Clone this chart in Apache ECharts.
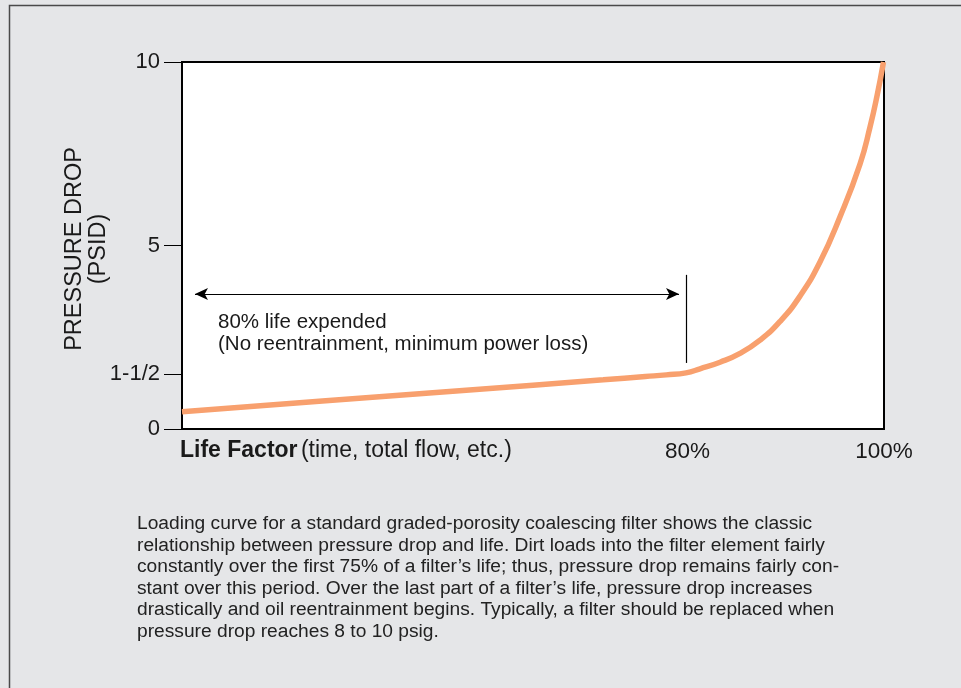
<!DOCTYPE html>
<html>
<head>
<meta charset="utf-8">
<script src="https://cdn.jsdelivr.net/npm/echarts@6/dist/echarts.min.js"></script>
<style>
html,body{margin:0;padding:0;background:#e5e6e8;}
#c{width:961px;height:688px;}
</style>
</head>
<body>
<div id="c"></div>
<script>
// Life factor (%) along x, pressure drop (psid) along y
const lifeX = [0, 20, 40, 60, 66, 69, 71.8, 73.79, 76.64, 79.49, 82.34, 85.19, 88.03, 90.88, 93.73, 96.58, 98.01, 99.0, 99.93];
const pressureY = [0.47, 0.76, 1.05, 1.34, 1.43, 1.475, 1.53, 1.64, 1.82, 2.06, 2.42, 2.93, 3.62, 4.55, 5.78, 7.22, 8.23, 9.07, 10.0];
const yTickValues = [0, 1.5, 5, 10];
const yTickLabels = ['0', '1-1/2', '5', '10'];
const xTickValues = [72, 100];
const xTickLabels = ['80%', '100%'];
const arrowSpan = [1.85, 70.8];
const arrowLevel = 3.68;
const markerX = 71.8;
const markerSpan = [1.8, 4.2];
const caption = [
  'Loading curve for a standard graded-porosity coalescing filter shows the classic',
  'relationship between pressure drop and life. Dirt loads into the filter element fairly',
  'constantly over the first 75% of a filter\u2019s life; thus, pressure drop remains fairly con-',
  'stant over this period. Over the last part of a filter\u2019s life, pressure drop increases',
  'drastically and oil reentrainment begins. Typically, a filter should be replaced when',
  'pressure drop reaches 8 to 10 psig.'
];

const FONT = '"Liberation Sans", Arial, Helvetica, sans-serif';
const chart = echarts.init(document.getElementById('c'));
chart.setOption({
  backgroundColor: '#e5e6e8',
  animation: false,
  grid: {left: 182, right: 77, top: 62, bottom: 259, show: true,
    backgroundColor: '#ffffff', borderColor: '#000', borderWidth: 2},
  xAxis: {
    type: 'value', min: 0, max: 100,
    axisLine: {show: false},
    axisTick: {show: false},
    splitLine: {show: false},
    axisLabel: {
      customValues: xTickValues,
      margin: 11,
      color: '#1a1a1a', fontSize: 22.5, fontFamily: FONT,
      formatter: v => xTickLabels[xTickValues.indexOf(v)]
    }
  },
  yAxis: {
    type: 'value', min: 0, max: 10,
    axisLine: {show: false},
    splitLine: {show: false},
    axisTick: {show: true, customValues: yTickValues, length: 18, inside: false,
      lineStyle: {color: '#000', width: 1}},
    axisLabel: {
      customValues: yTickValues,
      margin: 22,
      color: '#1a1a1a', fontSize: 22, fontFamily: FONT,
      formatter: v => yTickLabels[yTickValues.indexOf(v)]
    }
  },
  series: [{
    type: 'line',
    data: lifeX.map((x, i) => [x, pressureY[i]]),
    smooth: 0.5,
    symbol: 'none',
    lineStyle: {color: '#f8a06e', width: 5.5},
    markLine: {
      silent: true,
      symbol: 'none',
      label: {show: false},
      lineStyle: {color: '#000', width: 1.2, type: 'solid'},
      data: [
        [{coord: [arrowSpan[0], arrowLevel], symbol: 'arrow', symbolSize: [9, 13]},
         {coord: [arrowSpan[1], arrowLevel], symbol: 'arrow', symbolSize: [9, 13]}],
        [{coord: [markerX, markerSpan[0]], symbol: 'none'},
         {coord: [markerX, markerSpan[1]], symbol: 'none'}]
      ]
    }
  }],
  graphic: [
    {type: 'rect', silent: true, shape: {x: 9.5, y: 5.5, width: 1200, height: 1200},
      style: {fill: null, stroke: '#4a4a4a', lineWidth: 1.5}},
    {type: 'text', x: 87, y: 249, rotation: Math.PI / 2,
      style: {text: 'PRESSURE DROP\n(PSID)', fill: '#1a1a1a', font: '23.5px ' + FONT,
        align: 'center', verticalAlign: 'middle', lineHeight: 24}},
    {type: 'text', x: 180, y: 439,
      style: {text: '{b|Life Factor} {r|(time, total flow, etc.)}', fill: '#1a1a1a',
        rich: {b: {fontWeight: 'bold', fontSize: 23, fontFamily: FONT, fill: '#1a1a1a'},
               r: {fontSize: 23, fontFamily: FONT, fill: '#1a1a1a'}}}},
    {type: 'text', x: 218, y: 311,
      style: {text: '80% life expended\n(No reentrainment, minimum power loss)',
        fill: '#1a1a1a', font: '20.5px ' + FONT, lineHeight: 22}},
    {type: 'text', x: 137, y: 513,
      style: {text: caption.join('\n'), fill: '#222', font: '19.2px ' + FONT, lineHeight: 21.6}}
  ]
});
</script>
</body>
</html>
